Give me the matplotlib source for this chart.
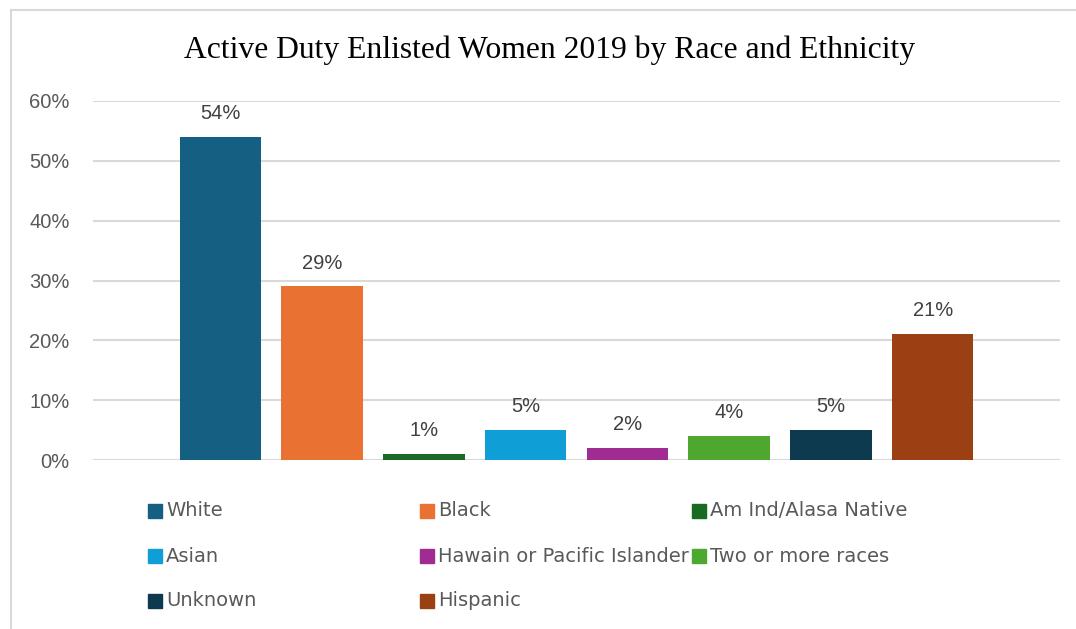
import matplotlib.pyplot as plt
from matplotlib.patches import Rectangle
from matplotlib.lines import Line2D

groups = ['White', 'Black', 'Am Ind/Alasa Native', 'Asian',
          'Hawain or Pacific Islander', 'Two or more races', 'Unknown', 'Hispanic']
shares = [54, 29, 1, 5, 2, 4, 5, 21]
colors = ['#156082', '#E97132', '#196B24', '#0F9ED5',
          '#A02B93', '#4EA72E', '#0E3A50', '#9A4012']
yticks = [0, 10, 20, 30, 40, 50, 60]

W, H = 1076, 629
fig = plt.figure(figsize=(W / 100, H / 100), dpi=100)

# chart frame (left and top edge only)
fig.add_artist(Line2D([11 / W, 11 / W], [0, 1 - 10 / H], color='#d9d9d9', lw=1.5))
fig.add_artist(Line2D([11 / W, 1], [1 - 10 / H, 1 - 10 / H], color='#d9d9d9', lw=1.5))

ax = fig.add_axes([93 / W, 1 - 460 / H, (1060 - 93) / W, (460 - 101) / H])
x = list(range(len(groups)))
ax.bar(x, shares, width=0.8, color=colors, zorder=3)
for xi, v in zip(x, shares):
    ax.annotate('{}%'.format(v), (xi, v), xytext=(0, 10), textcoords='offset points',
                ha='center', va='bottom', fontsize=14.5, color='#404040',
                family='Liberation Sans')

ax.set_xlim(-1.25, 8.25)
ax.set_ylim(0, 60)
ax.set_yticks(yticks)
ax.set_yticklabels(['{}%'.format(t) for t in yticks], fontsize=14.5,
                   color='#595959', family='Liberation Sans')
ax.set_xticks([])
ax.yaxis.grid(True, color='#d9d9d9', lw=1.5, zorder=0)
ax.tick_params(axis='y', length=0, pad=17)
for s in ax.spines.values():
    s.set_visible(False)

fig.text(550 / W, 1 - 50 / H, 'Active Duty Enlisted Women 2019 by Race and Ethnicity',
         ha='center', va='center', fontsize=22.8, family='Liberation Serif', color='black')

# legend laid out row by row, three columns
col_x = [148, 420, 692]
row_y = [511, 556, 601]
for i, (name, c) in enumerate(zip(groups, colors)):
    cx = col_x[i % 3]
    cy = row_y[i // 3]
    fig.add_artist(Rectangle((cx / W, 1 - (cy + 7) / H), 14 / W, 14 / H,
                             color=c, transform=fig.transFigure))
    fig.text((cx + 18) / W, 1 - cy / H, name, ha='left', va='center',
             fontsize=14, color='#595959', family='DejaVu Sans')

fig.savefig('out.png', dpi=100)
